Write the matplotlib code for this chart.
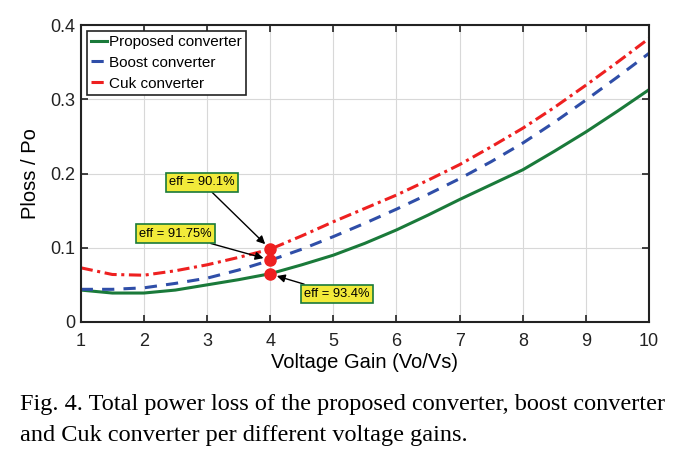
import matplotlib
matplotlib.use("Agg")
import matplotlib.pyplot as plt
import numpy as np

gain = [1, 1.5, 2, 2.5, 3, 3.5, 4, 4.5, 5, 5.5, 6, 6.5, 7, 7.5, 8, 8.5, 9, 9.5, 10]
proposed = [0.043, 0.039, 0.039, 0.043, 0.050, 0.057, 0.065, 0.077, 0.090, 0.106, 0.124, 0.144,
            0.165, 0.185, 0.205, 0.230, 0.256, 0.284, 0.313]
boost = [0.044, 0.044, 0.046, 0.052, 0.059, 0.070, 0.083, 0.098, 0.115, 0.133, 0.152, 0.172,
         0.193, 0.216, 0.241, 0.269, 0.299, 0.330, 0.362]
cuk = [0.073, 0.064, 0.063, 0.069, 0.077, 0.087, 0.098, 0.116, 0.135, 0.153, 0.171, 0.191,
       0.212, 0.236, 0.261, 0.289, 0.319, 0.350, 0.382]

mark_x = [4, 4, 4]
mark_y = [0.0983, 0.0835, 0.0646]
mark_labels = ["eff = 90.1%", "eff = 91.75%", "eff = 93.4%"]

plt.rcParams['font.family'] = ['Liberation Sans', 'DejaVu Sans']

fig = plt.figure(figsize=(6.84, 4.59), dpi=100)
ax = fig.add_axes([0.118, 0.2985, 0.831, 0.647])

ax.plot(gain, proposed, color='#1a7a3a', lw=2.2, label='Proposed converter')
ax.plot(gain, boost, color='#2f4ea8', lw=2.2, ls=(0, (4, 3)), label='Boost converter')
ax.plot(gain, cuk, color='#ee2020', lw=2.2, ls=(0, (4, 1.5, 1, 1.5)), label='Cuk converter')
ax.plot(mark_x, mark_y, 'o', color='#ee2020', ms=8, zorder=5)

ax.set_xlim(1, 10)
ax.set_ylim(0, 0.4)
ax.set_xticks(range(1, 11))
ax.set_yticks([0, 0.1, 0.2, 0.3, 0.4])
ax.set_yticklabels(['0', '0.1', '0.2', '0.3', '0.4'])
ax.grid(True, color='#d8d8d8', lw=0.8)
ax.tick_params(direction='in', top=True, right=True, labelsize=13, length=5, width=1.2,
               colors='#222222')
ax.tick_params(axis='x', pad=8)
ax.tick_params(axis='y', pad=4)
for s in ax.spines.values():
    s.set_linewidth(1.5)
    s.set_color('#222222')
ax.set_xlabel('Voltage Gain (Vo/Vs)', fontsize=14.5, labelpad=2)
ax.set_ylabel('Ploss / Po', fontsize=14.5, labelpad=7)

leg = ax.legend(loc='upper left', fontsize=11, handlelength=1.1, handletextpad=0.12,
                borderpad=0.25, labelspacing=0.45, fancybox=False, framealpha=1,
                borderaxespad=0.4)
leg.get_frame().set_edgecolor('#222222')
leg.get_frame().set_linewidth(1.2)

bbox = dict(boxstyle='square,pad=0.25', fc='#f2ea3a', ec='#1a7a3a', lw=1.2)
text_pos = [(2.92, 0.188), (2.5, 0.119), (5.06, 0.0377)]
for (tx, ty), lab, my in zip(text_pos, mark_labels, mark_y):
    ax.annotate(lab, xy=(4, my), xytext=(tx, ty), fontsize=9.3, ha='center', va='center',
                bbox=bbox, arrowprops=dict(arrowstyle='-|>', color='black', lw=1.0,
                                           mutation_scale=12, shrinkA=0, shrinkB=5))

fig.text(0.029, 0.118, 'Fig. 4. Total power loss of the proposed converter, boost converter',
         family='Liberation Serif', fontsize=17.5, va='center', ha='left')
fig.text(0.029, 0.052, 'and Cuk converter per different voltage gains.',
         family='Liberation Serif', fontsize=17.5, va='center', ha='left')

fig.savefig('out.png', dpi=100)
